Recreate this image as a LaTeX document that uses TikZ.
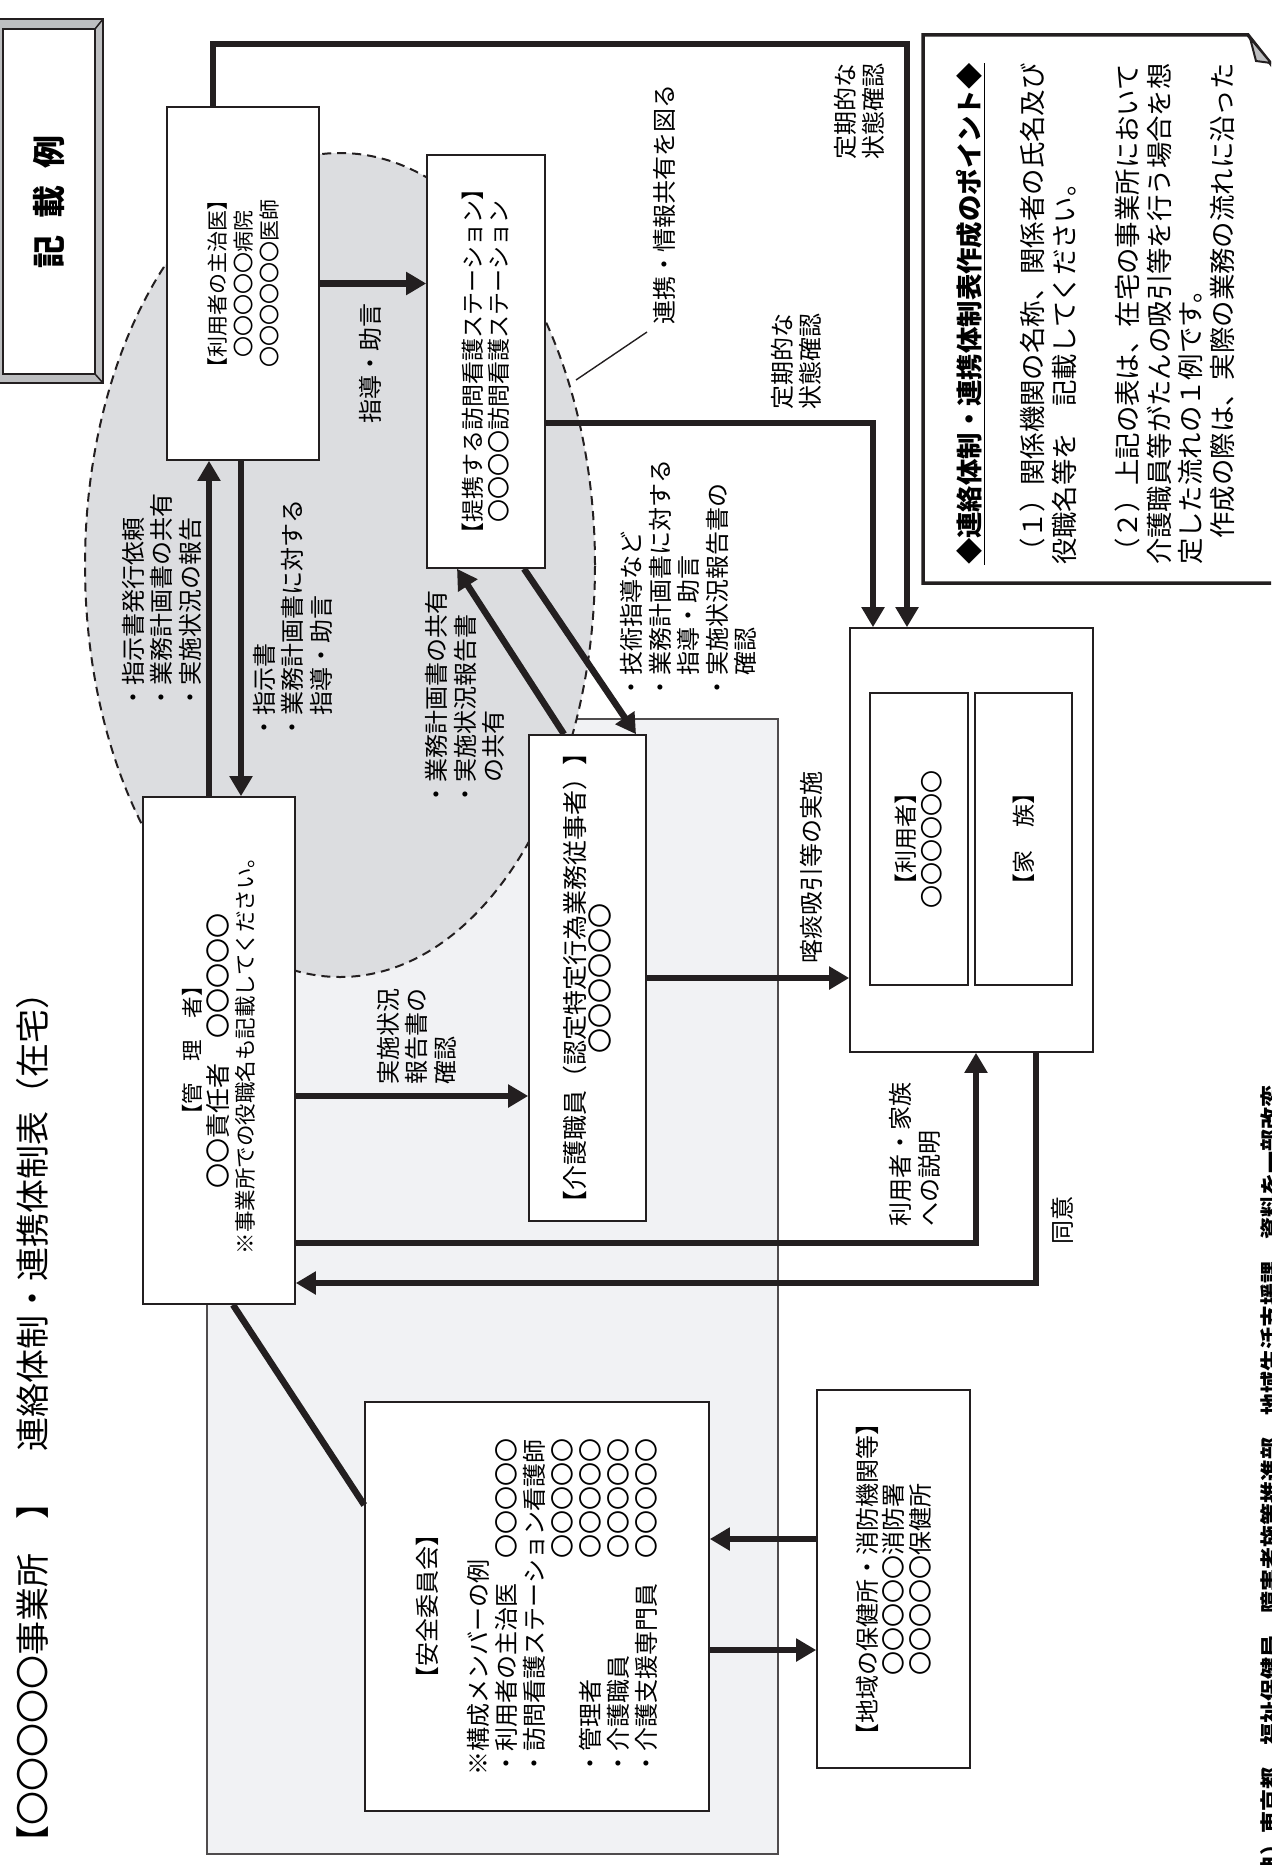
\documentclass[tikz,border=0pt]{standalone}
\usepackage{fontspec}
\setmainfont{Noto Sans CJK JP}
\usepackage{tikz}
\usetikzlibrary{arrows.meta,positioning,calc}
\definecolor{ink}{HTML}{231F20}
\definecolor{shade}{HTML}{DCDDE0}
\definecolor{paleshade}{HTML}{F1F2F4}
\definecolor{bevel}{HTML}{BDBEC0}

\begin{document}
\begin{tikzpicture}[x=1pt,y=-1pt,
  box/.style={draw=ink,line width=1.6pt,fill=white,rotate=90,align=center,inner sep=0pt},
  note/.style={rotate=90,anchor=west,align=left,inner sep=0pt,font={\fontsize{24pt}{28.5pt}\selectfont}},
  flow/.style={draw=ink,line width=6.5pt},
  arr/.style={flow,-{Triangle[length=20pt,width=22pt]}}]
  \useasboundingbox (0,0) rectangle (1271,1865);
  \clip (0,0) rectangle (1271,1865);

  % stamp and heading
  \filldraw[fill=bevel,draw=ink,line width=2.5pt] (-8,19) rectangle (103,383);
  \filldraw[fill=white,draw=ink,line width=2pt] (3,29) rectangle (95,374);
  \draw[ink,line width=1.5pt] (95,29) -- (103,19) (95,374) -- (103,383);
  \node[rotate=90,font={\fontsize{33pt}{33pt}\selectfont\bfseries}] (stamp) at (49,202) {記\hspace{17pt}載\hspace{17pt}例};
  \node[rotate=90,anchor=west,inner sep=0pt,font={\fontsize{34pt}{34pt}\selectfont}] (title) at (33,1860) {【〇〇〇〇〇事業所　】　連絡体制・連携体制表（在宅）};

  % office area and shared area
  \filldraw[fill=paleshade,draw=ink!80,line width=1.4pt] (207,719) rectangle (778,1854);
  \filldraw[fill=shade,draw=ink,line width=2pt,dash pattern=on 9pt off 6pt] (340,565) ellipse [x radius=255pt,y radius=412pt];

  % boxes
  \node[box,minimum width=353pt,minimum height=152pt,font={\fontsize{21pt}{26pt}\selectfont}] (doc) at (243,283.5) {【利用者の主治医】\\〇〇〇〇〇病院\\〇〇〇〇〇〇医師};
  \node[box,minimum width=413pt,minimum height=118pt,font={\fontsize{23pt}{26pt}\selectfont}] (stn) at (486,361.5) {【提携する訪問看護ステーション】\\〇〇〇〇訪問看護ステーション};
  \node[box,minimum width=507pt,minimum height=152pt,font={\fontsize{21.5pt}{26.5pt}\selectfont}] (mgr) at (219,1050.5) {【管　理　者】\\{\fontsize{25pt}{26.5pt}\selectfont 〇〇責任者　〇〇〇〇〇}\\※事業所での役職名も記載してください。};
  \node[box,minimum width=486pt,minimum height=117pt,font={\fontsize{25pt}{25pt}\selectfont}] (care) at (587.5,978) {【介護職員（認定特定行為業務従事者）】\\〇〇〇〇〇〇};
  \node[box,minimum width=424pt,minimum height=243pt] (usr) at (971.5,840) {};
  \node[box,minimum width=292pt,minimum height=98pt,font={\fontsize{23pt}{26pt}\selectfont}] (user) at (919,839) {【利用者】\\〇〇〇〇〇〇};
  \node[box,minimum width=292pt,minimum height=97pt,font={\fontsize{23pt}{26pt}\selectfont}] (family) at (1023.5,839) {【家　族】};
  \node[box,minimum width=409pt,minimum height=344pt,font={\fontsize{24pt}{28pt}\selectfont}] (saf) at (537,1606.5) {【安全委員会】\\[28pt]\parbox{337pt}{\raggedright
    ※構成メンバーの例\\
    ・利用者の主治医\hfill〇〇〇〇〇\\
    ・訪問看護ステーション看護師\\
    \hspace*{\fill}〇〇〇〇〇\\
    ・管理者\hfill〇〇〇〇〇\\
    ・介護職員\hfill〇〇〇〇〇\\
    ・介護支援専門員\hfill〇〇〇〇〇}};
  \node[box,minimum width=378pt,minimum height=153pt,font={\fontsize{24pt}{26.5pt}\selectfont}] (reg) at (893.5,1579) {【地域の保健所・消防機関等】\\〇〇〇〇〇消防署\\〇〇〇〇〇保健所};

  % points note
  \filldraw[fill=white,draw=ink,line width=3.5pt] (923,583) -- (923,35) -- (1248,35) -- (1290,88) -- (1290,583) -- cycle;
  \filldraw[fill=bevel,draw=ink,line width=2pt] (1250,38) -- (1256,61) -- (1271,63) -- cycle;
  \node[rotate=90,anchor=west,align=left,inner sep=0pt,font={\fontsize{26.4pt}{31.6pt}\selectfont}] (tips) at (1095.5,565) {\textbf{\underline{◆連絡体制・連携体制表作成のポイント◆}}\\[31.6pt]
    （１）関係機関の名称、関係者の氏名及び\\役職名等を　記載してください。\\[31.6pt]
    （２）上記の表は、在宅の事業所において\\介護職員等がたんの吸引等を行う場合を想\\定した流れの１例です。\\　作成の際は、実際の業務の流れに沿った};

  % connectors
  \draw[arr] ([xshift=-30pt]doc.east) -- ++(0,-62) -| ([xshift=-64.5pt]usr.east);
  \draw[arr] ([yshift=-61.5pt]stn.south) -| ([xshift=-98.5pt]usr.east);
  \draw[arr] ([xshift=-10pt]mgr.east) -- ([xshift=-34pt]doc.west);
  \draw[arr] ([xshift=-2pt]doc.west) -- ([xshift=22pt]mgr.east);
  \draw[arr] (doc.south) -- (doc.south -| stn.north);
  \draw[arr] ([xshift=-23.5pt]care.east) -- ([xshift=-29pt]stn.west);
  \draw[arr] ([xshift=38pt]stn.west) -- ([xshift=48.5pt]care.east);
  \draw[arr] (care.south) -- (care.south -| usr.north);
  \draw[arr] ([yshift=-45.5pt]mgr.south) -- ([yshift=-45.5pt]mgr.south -| care.north);
  \draw[arr] ([yshift=-192.5pt]mgr.south) -| ([xshift=4.5pt]usr.west);
  \draw[arr] ([xshift=64.5pt]usr.west) |- ([yshift=-232.5pt]mgr.south);
  \draw[flow] ([xshift=14pt]mgr.west) -- ([yshift=101.5pt]saf.north);
  \draw[arr] ([yshift=-43.5pt]saf.south) -- ([yshift=-43.5pt]saf.south -| reg.north);
  \draw[arr] ([yshift=40pt]reg.north) -- ([yshift=40pt]reg.north -| saf.south);

  % labels
  \node[note] (docmgr) at (161.5,710) {・指示書発行依頼\\・業務計画書の共有\\・実施状況の報告};
  \node[note] (mgrdoc) at (292.5,740) {・指示書\\・業務計画書に対する\\　指導・助言};
  \node[note] (advice) at (370,424) {指導・助言};
  \node[note] (share) at (664,325) {連携・情報共有を図る};
  \coordinate (lead) at (576,380);
  \draw[ink,line width=1.4pt] (lead) -- ([xshift=-17pt,yshift=-7pt]share.west);
  \node[note] (check1) at (859.5,160) {定期的な\\状態確認};
  \node[note] (check2) at (796.5,410) {定期的な\\状態確認};
  \node[note] (careup) at (465,807) {・業務計画書の共有\\・実施状況報告書\\　の共有};
  \node[note] (stndown) at (688.5,700) {・技術指導など\\・業務計画書に対する\\　指導・助言\\・実施状況報告書の\\　確認};
  \node[note] (suction) at (811,964) {喀痰吸引等の実施};
  \node[note] (report) at (416.5,1085) {実施状況\\報告書の\\確認};
  \node[note] (explain) at (915,1227) {利用者・家族\\への説明};
  \node[note] (agree) at (1062,1245) {同意};
  \node[rotate=90,anchor=west,inner sep=0pt,font={\fontsize{22pt}{22pt}\selectfont\bfseries}] (src) at (1271,1922) {（出典）東京都　福祉保健局　障害者施策推進部　地域生活支援課　資料を一部改変};
\end{tikzpicture}
\end{document}
